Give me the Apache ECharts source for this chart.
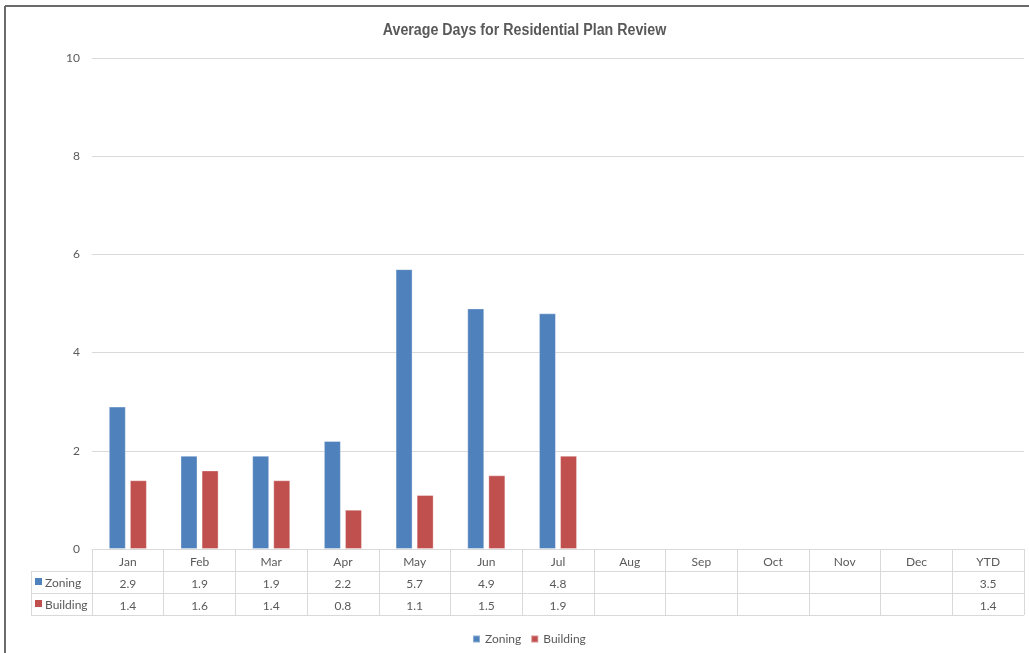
<!DOCTYPE html>
<html>
<head>
<meta charset="utf-8">
<script src="https://cdn.jsdelivr.net/npm/echarts@6/dist/echarts.min.js"></script>
<style>
  html, body { margin: 0; padding: 0; background: #fff; }
  #chart { width: 1029px; height: 653px; }
</style>
</head>
<body>
<div id="chart"></div>
<script>
// Months shown on the category axis, plus the year-to-date column of the data table
const categories = ['Jan', 'Feb', 'Mar', 'Apr', 'May', 'Jun', 'Jul', 'Aug', 'Sep', 'Oct', 'Nov', 'Dec', 'YTD'];
// Average days per month (null = no data yet)
const zoningDays   = [2.9, 1.9, 1.9, 2.2, 5.7, 4.9, 4.8, null, null, null, null, null];
const buildingDays = [1.4, 1.6, 1.4, 0.8, 1.1, 1.5, 1.9, null, null, null, null, null];
// Year-to-date averages, listed in the table only
const zoningYTD = 3.5;
const buildingYTD = 1.4;
const yTicks = [0, 2, 4, 6, 8, 10];

const chartTitle = 'Average Days for Residential Plan Review';
const seriesNames = ['Zoning', 'Building'];
const colors = ['#4F81BD', '#C0504D'];
const textColor = '#595959';
const lineColor = '#D9D9D9';
const tableFont = 'Lato, "Open Sans", sans-serif';

// Table rows: monthly values followed by the YTD value
const zoningRow = zoningDays.concat([zoningYTD]);
const buildingRow = buildingDays.concat([buildingYTD]);
const fmt = v => (v === null || v === undefined) ? ' ' : v.toFixed(1);

const chart = echarts.init(document.getElementById('chart'));

const option = {
  backgroundColor: '#fff',
  animation: false,
  color: colors,
  legend: {
    bottom: 3,
    left: 467,
    itemWidth: 7,
    itemHeight: 7,
    itemGap: 9,
    icon: 'rect',
    textStyle: { fontFamily: tableFont, fontSize: 12, color: textColor },
    data: seriesNames
  },
  grid: { left: 92, right: 5, top: 58, bottom: 104 },
  xAxis: {
    type: 'category',
    data: categories,
    boundaryGap: true,
    axisLine: { show: true, lineStyle: { color: lineColor, width: 1 } },
    axisTick: { show: true, interval: 0, length: 66, lineStyle: { color: lineColor, width: 1 } },
    axisLabel: {
      interval: 0,
      margin: 2,
      formatter: (value, idx) =>
        '{m|' + value + '}\n{v|' + fmt(zoningRow[idx]) + '}\n{v|' + fmt(buildingRow[idx]) + '}',
      rich: {
        m: { fontFamily: tableFont, fontSize: 12, color: textColor, lineHeight: 22, height: 22 },
        v: { fontFamily: tableFont, fontSize: 12, color: textColor, lineHeight: 22, height: 22 }
      }
    }
  },
  yAxis: {
    type: 'value',
    min: 0,
    max: 10,
    interval: 2,
    axisLine: { show: false },
    axisTick: { show: false },
    axisLabel: {
      margin: 12,
      fontFamily: tableFont,
      fontSize: 12,
      color: textColor,
      formatter: v => (yTicks.indexOf(v) >= 0 ? String(v) : '')
    },
    splitLine: { lineStyle: { color: lineColor, width: 1 } }
  },
  series: [
    {
      name: seriesNames[0],
      type: 'bar',
      data: zoningDays.concat([null]),
      barWidth: 17,
      barGap: '24%',
      itemStyle: { color: colors[0], borderColor: 'rgba(255,255,255,0.35)', borderWidth: 1 }
    },
    {
      name: seriesNames[1],
      type: 'bar',
      data: buildingDays.concat([null]),
      barWidth: 17,
      itemStyle: { color: colors[1], borderColor: 'rgba(255,255,255,0.35)', borderWidth: 1 }
    }
  ]
};

chart.setOption(option);

// Title (condensed), chart frame, data-table rules and row headers
function drawExtras() {
  const rect = chart.getModel().getComponent('grid').coordinateSystem.getRect();
  const rowH = 22;
  const axisY = chart.convertToPixel({ yAxisIndex: 0 }, 0);
  const tableLeft = 31;
  const right = rect.x + rect.width;
  const elements = [];
  // condensed bold title
  elements.push({
    type: 'text',
    x: 524.5,
    y: 31,
    scaleX: 0.89,
    style: {
      x: 0, y: 0, text: chartTitle, align: 'center', verticalAlign: 'middle',
      font: 'bold 16px "Liberation Sans", Arial, sans-serif', fill: textColor
    }
  });
  // outer frame of the chart area (top and left edges)
  elements.push({ type: 'line', shape: { x1: 5, y1: 6, x2: 1029, y2: 6 }, style: { stroke: '#6b6b6b', lineWidth: 2 } });
  elements.push({ type: 'line', shape: { x1: 5, y1: 6, x2: 5, y2: 653 }, style: { stroke: '#6b6b6b', lineWidth: 2 } });
  // horizontal rules below each table row
  for (let r = 1; r <= 3; r++) {
    const y = Math.round(axisY + rowH * r) + 0.5;
    elements.push({ type: 'line', shape: { x1: tableLeft, y1: y, x2: right, y2: y }, style: { stroke: lineColor, lineWidth: 1 } });
  }
  // left edge of the row-header column
  elements.push({
    type: 'line',
    shape: { x1: tableLeft + 0.5, y1: Math.round(axisY + rowH) + 0.5, x2: tableLeft + 0.5, y2: Math.round(axisY + rowH * 3) + 0.5 },
    style: { stroke: lineColor, lineWidth: 1 }
  });
  // row headers with series swatches
  seriesNames.forEach((name, i) => {
    const cy = axisY + rowH * (i + 1) + rowH / 2 + 1;
    elements.push({ type: 'rect', shape: { x: 35, y: cy - 5, width: 7, height: 7 }, style: { fill: colors[i] } });
    elements.push({
      type: 'text',
      style: {
        x: 45, y: cy, text: name, verticalAlign: 'middle', align: 'left',
        font: '12px ' + tableFont, fill: textColor
      }
    });
  });
  chart.setOption({ graphic: { elements: elements } });
}
drawExtras();
</script>
</body>
</html>
